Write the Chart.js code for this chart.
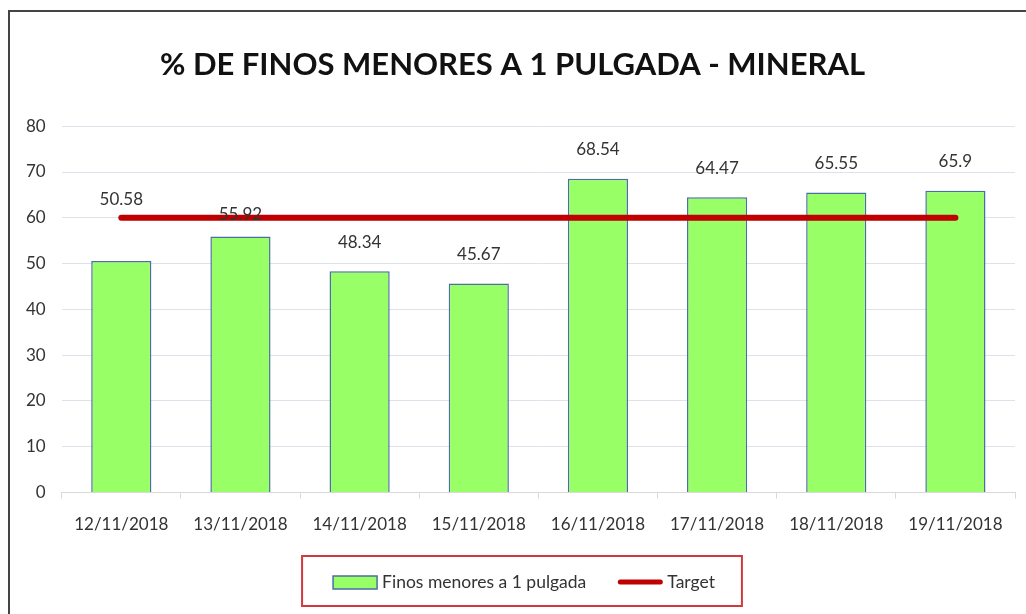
<!DOCTYPE html>
<html>
<head>
<meta charset="utf-8">
<script src="https://cdn.jsdelivr.net/npm/chart.js@4.4.1/dist/chart.umd.min.js"></script>
<style>
  html, body { margin: 0; padding: 0; background: #fff; overflow: hidden; }
  #frame {
    position: absolute; left: 8px; top: 10px;
    width: 1100px; height: 700px;
    border: 2px solid #444;
  }
  #chart { position: absolute; left: 0; top: 0; }
</style>
</head>
<body>
<div id="frame"></div>
<canvas id="chart" width="1026" height="614"></canvas>
<script>
const fechas = ["12/11/2018", "13/11/2018", "14/11/2018", "15/11/2018", "16/11/2018", "17/11/2018", "18/11/2018", "19/11/2018"];
const finos = [50.58, 55.92, 48.34, 45.67, 68.54, 64.47, 65.55, 65.9];
const target = [60, 60, 60, 60, 60, 60, 60, 60];
const yTicks = [0, 10, 20, 30, 40, 50, 60, 70, 80];

const FONT = "Lato, 'Liberation Sans', sans-serif";
const TXT = "#333333";

// etiquetas de valor encima de cada barra
const valueLabels = {
  id: "valueLabels",
  afterDatasetsDraw(chart) {
    const ctx = chart.ctx;
    const meta = chart.getDatasetMeta(1);
    const lift = { 0: 61, 1: 22 }; // Excel dejó dos etiquetas movidas
    ctx.save();
    ctx.font = "17px " + FONT;
    ctx.fillStyle = TXT;
    ctx.textAlign = "center";
    ctx.textBaseline = "middle";
    meta.data.forEach((bar, i) => {
      const off = lift[i] !== undefined ? lift[i] : 29;
      ctx.fillText(String(finos[i]), bar.x, bar.y - off);
    });
    ctx.restore();
  }
};

// leyenda dibujada a mano con el recuadro rojo
const boxedLegend = {
  id: "boxedLegend",
  afterDraw(chart) {
    const ctx = chart.ctx;
    const ds = chart.data.datasets;
    const bar = ds[1], line = ds[0];
    ctx.save();
    ctx.font = "17.5px " + FONT;
    const w1 = ctx.measureText(bar.label).width;
    const w2 = ctx.measureText(line.label).width;
    const sw = 44, gap = 5, between = 32;
    const total = sw + gap + w1 + between + sw + gap + w2;
    const cx = chart.width / 2 + 11;
    const cy = 582;
    let x = cx - total / 2;

    ctx.strokeStyle = "#d03a3a";
    ctx.lineWidth = 2;
    ctx.strokeRect(x - 31, cy - 26, total + 58, 50);

    ctx.fillStyle = bar.backgroundColor;
    ctx.fillRect(x, cy - 6, sw, 13);
    ctx.strokeStyle = bar.borderColor;
    ctx.lineWidth = 1.5;
    ctx.strokeRect(x, cy - 6, sw, 13);
    x += sw + gap;
    ctx.fillStyle = TXT;
    ctx.textBaseline = "middle";
    ctx.fillText(bar.label, x, cy);
    x += w1 + between;

    ctx.strokeStyle = line.borderColor;
    ctx.lineWidth = 5;
    ctx.lineCap = "round";
    ctx.beginPath();
    ctx.moveTo(x + 2, cy);
    ctx.lineTo(x + sw - 2, cy);
    ctx.stroke();
    x += sw + gap;
    ctx.fillStyle = TXT;
    ctx.fillText(line.label, x, cy);
    ctx.restore();
  }
};

new Chart(document.getElementById("chart"), {
  type: "bar",
  data: {
    labels: fechas,
    datasets: [
      {
        type: "line",
        label: "Target",
        data: target,
        borderColor: "#c00000",
        backgroundColor: "#c00000",
        borderWidth: 6,
        borderCapStyle: "round",
        pointRadius: 0,
        fill: false,
        order: 0
      },
      {
        type: "bar",
        label: "Finos menores a 1 pulgada",
        data: finos,
        backgroundColor: "#99ff66",
        borderColor: "#4a6fa5",
        borderWidth: 1.5,
        categoryPercentage: 0.505,
        barPercentage: 1,
        order: 1
      }
    ]
  },
  options: {
    responsive: false,
    animation: false,
    layout: { padding: { left: 10, right: 11, top: 0, bottom: 63 } },
    plugins: {
      legend: { display: false },
      tooltip: { enabled: false },
      title: {
        display: true,
        text: "% DE FINOS MENORES A 1 PULGADA - MINERAL",
        color: "#111",
        font: { family: FONT, size: 31, weight: "bold" },
        padding: { top: 46, bottom: 43 }
      }
    },
    scales: {
      x: {
        grid: { drawOnChartArea: false, color: "#d9d9d9", tickLength: 6, offset: true },
        border: { color: "#d9d9d9" },
        ticks: { color: TXT, font: { family: FONT, size: 17 }, padding: 16, maxRotation: 0 }
      },
      y: {
        min: 0,
        max: 80,
        afterBuildTicks: (axis) => { axis.ticks = yTicks.map(v => ({ value: v })); },
        grid: { color: "#dde3ea", drawTicks: false },
        border: { display: false },
        ticks: { color: TXT, font: { family: FONT, size: 17 }, padding: 16 }
      }
    }
  },
  plugins: [valueLabels, boxedLegend]
});
</script>
</body>
</html>
